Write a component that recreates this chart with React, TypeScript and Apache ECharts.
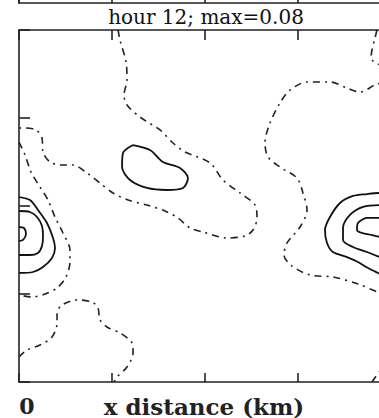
import React, { useEffect, useRef } from "react";
import * as echarts from "echarts";

// Axis domain (x and y distance, 4 intervals each)
const xTicks = [0, 1, 2, 3, 4];
const yTicks = [0, 1, 2, 3, 4];
const titleText = "hour 12; max=0.08";
const xLabel = "x distance (km)";
const originLabel = "0";

// Dash-dot contours (lowest level)
const contourA: number[][] = [
  [1.065, 4.0], [1.086, 3.886], [1.151, 3.636], [1.161, 3.432], [1.129, 3.261], [1.161, 3.148],
  [1.301, 3.011], [1.516, 2.864], [1.656, 2.716], [1.785, 2.614], [2.054, 2.489], [2.194, 2.295],
  [2.376, 2.148], [2.538, 2.011], [2.559, 1.864], [2.516, 1.727], [2.43, 1.659], [2.237, 1.636],
  [1.978, 1.705], [1.839, 1.75], [1.71, 1.864], [1.57, 1.943], [1.376, 2.011], [1.172, 2.068],
  [1.011, 2.148], [0.871, 2.261], [0.731, 2.375], [0.581, 2.466], [0.441, 2.466], [0.333, 2.5],
  [0.258, 2.614], [0.247, 2.773], [0.183, 2.864], [0.054, 2.886], [0, 2.886],
];
const contourB1: number[][] = [
  [3.849, 4.0], [3.828, 3.909], [3.796, 3.773], [3.785, 3.682], [3.86, 3.614], [4.011, 3.591],
];
const contourB2: number[][] = [
  [4.011, 3.409], [3.849, 3.386], [3.667, 3.295], [3.527, 3.341], [3.344, 3.409], [3.097, 3.409],
  [2.914, 3.318], [2.806, 3.17], [2.699, 2.943], [2.645, 2.716], [2.677, 2.557], [2.806, 2.443],
  [2.989, 2.318], [3.054, 2.148], [3.097, 1.955], [3.022, 1.761], [2.882, 1.58], [2.849, 1.443],
  [2.935, 1.318], [3.129, 1.216], [3.376, 1.193], [3.645, 1.114], [3.882, 1.011], [4.011, 0.966],
];
const contourC: number[][] = [
  [0, 2.727], [0.065, 2.58], [0.129, 2.386], [0.226, 2.216], [0.312, 2.068], [0.387, 1.875],
  [0.473, 1.693], [0.548, 1.5], [0.548, 1.364], [0.505, 1.193], [0.409, 1.068], [0.28, 1.0],
  [0.14, 0.966], [0, 0.989],
];
const contourD: number[][] = [
  [0, 0.284], [0.086, 0.364], [0.226, 0.42], [0.355, 0.511], [0.409, 0.67], [0.409, 0.784],
  [0.462, 0.875], [0.624, 0.932], [0.785, 0.909], [0.849, 0.841], [0.871, 0.705], [0.946, 0.625],
  [1.086, 0.557], [1.215, 0.443], [1.226, 0.33], [1.161, 0.17], [1.054, 0.057], [1.022, 0],
];
const contourH: number[][] = [
  [3.796, 0], [3.871, 0.114], [3.95, 0.2],
];

// Solid contours (higher levels)
const contourE: number[][] = [
  [1.226, 2.693], [1.409, 2.636], [1.548, 2.5], [1.731, 2.432], [1.817, 2.318], [1.763, 2.205],
  [1.591, 2.182], [1.376, 2.205], [1.194, 2.295], [1.108, 2.443], [1.118, 2.602], [1.226, 2.693],
];
const leftRing1: number[][] = [
  [0, 2.102], [0.118, 2.068], [0.204, 1.955], [0.301, 1.807], [0.366, 1.636], [0.387, 1.523],
  [0.355, 1.409], [0.258, 1.307], [0.151, 1.25], [0, 1.239],
];
const leftRing2: number[][] = [
  [0, 1.943], [0.118, 1.932], [0.194, 1.875], [0.247, 1.773], [0.258, 1.659], [0.247, 1.545],
  [0.204, 1.466], [0.118, 1.443], [0, 1.443],
];
const leftRing3: number[][] = [
  [0, 1.761], [0.054, 1.75], [0.075, 1.682], [0.043, 1.614], [0, 1.602],
];
const rightRing1: number[][] = [
  [4.011, 2.136], [3.882, 2.148], [3.742, 2.136], [3.591, 2.114], [3.452, 2.034], [3.344, 1.875],
  [3.29, 1.727], [3.312, 1.58], [3.376, 1.477], [3.527, 1.42], [3.645, 1.364], [3.753, 1.295],
  [3.882, 1.227], [4.011, 1.159],
];
const rightRing2: number[][] = [
  [4.011, 2.0], [3.871, 2.011], [3.699, 1.989], [3.559, 1.898], [3.484, 1.75], [3.484, 1.614],
  [3.591, 1.534], [3.742, 1.477], [3.882, 1.42], [4.011, 1.386],
];
const rightRing3: number[][] = [
  [4.011, 1.864], [3.882, 1.864], [3.742, 1.864], [3.645, 1.807], [3.634, 1.727], [3.688, 1.693],
  [3.796, 1.67], [3.882, 1.648], [4.011, 1.636],
];

const dashedContours = [contourA, contourB1, contourB2, contourC, contourD, contourH];
const solidContours = [contourE, leftRing1, leftRing2, leftRing3, rightRing1, rightRing2, rightRing3];

export default function App() {
  const ref = useRef<HTMLDivElement>(null);
  useEffect(() => {
    if (!ref.current) return;
    const chart = echarts.init(ref.current, null, { renderer: "svg" });
    const axisColor = "#222";
    const axisLineStyle = { color: axisColor, width: 1.6 };
    const xMin = xTicks[0];
    const xMax = xTicks[xTicks.length - 1];
    const yMin = yTicks[0];
    const yMax = yTicks[yTicks.length - 1];

    const mkX = (gridIndex: number, position: string, tickLen: number) => ({
      type: "value",
      gridIndex,
      position,
      min: xMin,
      max: xMax,
      interval: 1,
      axisLine: { show: true, onZero: false, lineStyle: axisLineStyle },
      axisTick: { show: true, inside: true, length: tickLen, lineStyle: axisLineStyle },
      axisLabel: { show: false },
      splitLine: { show: false },
    });
    const mkY = (gridIndex: number, position: string, tickLen: number) => ({
      type: "value",
      gridIndex,
      position,
      min: yMin,
      max: yMax,
      interval: 1,
      axisLine: { show: true, onZero: false, lineStyle: axisLineStyle },
      axisTick: { show: tickLen > 0, inside: true, length: tickLen, lineStyle: axisLineStyle },
      axisLabel: { show: false },
      splitLine: { show: false },
    });

    const series: any[] = [];
    dashedContours.forEach((d) =>
      series.push({
        type: "line",
        xAxisIndex: 0,
        yAxisIndex: 0,
        data: d,
        showSymbol: false,
        symbol: "none",
        smooth: 0.3,
        clip: true,
        silent: true,
        lineStyle: { color: "#222", width: 1.6, type: [7, 5, 2, 5] },
      })
    );
    solidContours.forEach((d) =>
      series.push({
        type: "line",
        xAxisIndex: 0,
        yAxisIndex: 0,
        data: d,
        showSymbol: false,
        symbol: "none",
        smooth: 0.3,
        clip: true,
        silent: true,
        lineStyle: { color: "#111", width: 1.8, type: "solid" },
      })
    );

    chart.setOption({
      animation: false,
      backgroundColor: "#fff",
      grid: [
        { left: 19, top: 30, width: 372, height: 352, containLabel: false, outerBoundsMode: "none" },
        { left: 19, top: 0, width: 372, height: 3, containLabel: false, outerBoundsMode: "none" },
      ],
      xAxis: [mkX(0, "bottom", 9), mkX(0, "top", 10), mkX(1, "bottom", 10)],
      yAxis: [mkY(0, "left", 11), mkY(0, "right", 11), mkY(1, "left", 0)],
      series,
      graphic: [
        {
          type: "text",
          x: 206,
          y: 17,
          style: {
            text: titleText,
            align: "center",
            verticalAlign: "middle",
            font: "20px 'DejaVu Serif'",
            fill: "#111",
          },
        },
        {
          type: "text",
          x: 204,
          y: 406,
          style: {
            text: xLabel,
            align: "center",
            verticalAlign: "middle",
            font: "bold 23px 'DejaVu Serif'",
            fill: "#222",
          },
        },
        {
          type: "text",
          x: 27,
          y: 406,
          style: {
            text: originLabel,
            align: "center",
            verticalAlign: "middle",
            font: "bold 22px 'DejaVu Serif'",
            fill: "#222",
          },
        },
      ],
    });
    return () => chart.dispose();
  }, []);
  return (
    <div
      ref={ref}
      style={{ position: "fixed", left: 0, top: 0, width: 379, height: 418, background: "#fff" }}
    />
  );
}
